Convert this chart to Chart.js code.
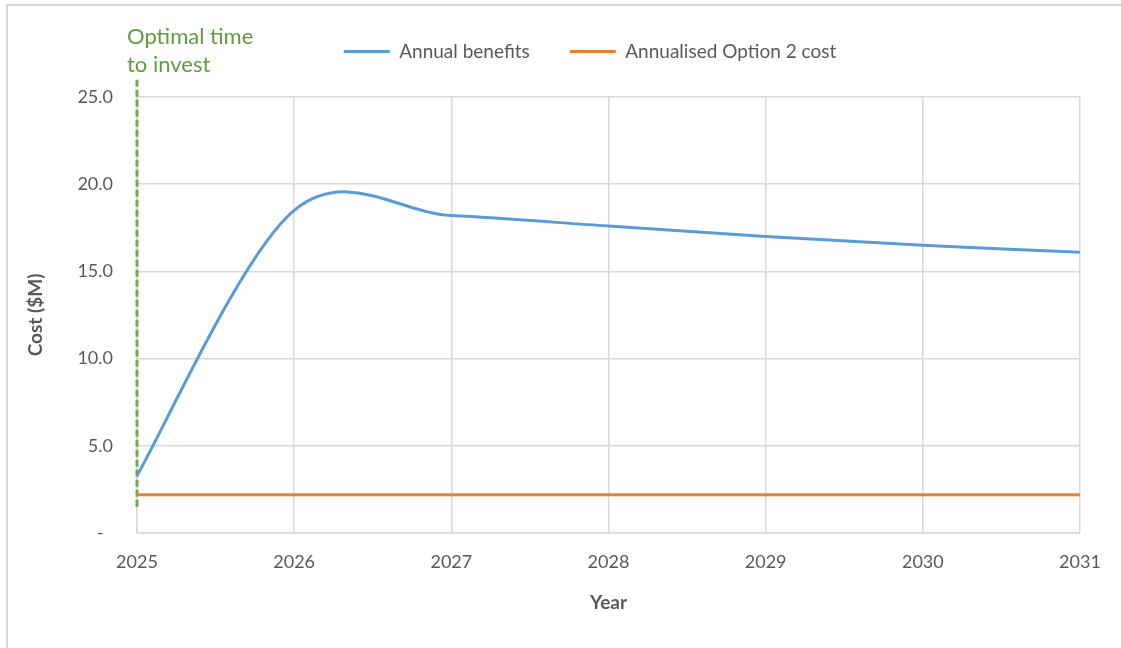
<!DOCTYPE html>
<html>
<head>
<meta charset="utf-8">
<script src="https://cdn.jsdelivr.net/npm/chart.js@4.4.1/dist/chart.umd.min.js"></script>
<style>
  html, body { margin: 0; padding: 0; background: #fff; }
  #wrap { position: relative; width: 1121px; height: 648px; }
</style>
</head>
<body>
<div id="wrap"><canvas id="costChart" width="1121" height="648"></canvas></div>
<script>
const years = [2025, 2026, 2027, 2028, 2029, 2030, 2031];
const annualBenefits = [3.3, 18.5, 18.2, 17.6, 17.0, 16.5, 16.1];
const optionCost = [2.2, 2.2, 2.2, 2.2, 2.2, 2.2, 2.2];
const investYear = 2025;
const investLineY = [1.5, 26];
const investLabel = ["Optimal time", "to invest"];
const seriesNames = ["Annual benefits", "Annualised Option 2 cost"];

const textColor = "#595959";
const gridColor = "#d9d9d9";

// Excel-like smoothing: control points at 1/6 of the neighbour span
const excelSmooth = {
  id: "excelSmooth",
  beforeDatasetsDraw(chart) {
    const meta = chart.getDatasetMeta(0);
    meta.dataset.updateControlPoints(chart.chartArea);
    const pts = meta.data;
    pts.forEach((p, i) => {
      const prev = pts[Math.max(i - 1, 0)];
      const next = pts[Math.min(i + 1, pts.length - 1)];
      const dx = (next.x - prev.x) / 6;
      const dy = (next.y - prev.y) / 6;
      p.cp1x = p.x - dx;
      p.cp1y = p.y - dy;
      p.cp2x = p.x + dx;
      p.cp2y = p.y + dy;
    });
  },
};

// frame round the chart + the green label
const extras = {
  id: "extras",
  beforeInit(chart) {
    const fit = chart.legend.fit;
    chart.legend.fit = function () {
      fit.bind(chart.legend)();
      this.height = 95;
    };
  },
  afterLayout(chart) {
    chart.legend.left += 40;
    chart.legend.right += 40;
  },
  beforeDraw(chart) {
    const c = chart.ctx;
    c.save();
    c.strokeStyle = gridColor;
    c.lineWidth = 2;
    c.strokeRect(7, 5, 1200, 800);
    c.restore();
  },
  afterDraw(chart) {
    const c = chart.ctx;
    const x = chart.scales.x.getPixelForValue(investYear) - 10;
    c.save();
    c.fillStyle = "#5f9c3f";
    c.font = "22px Lato";
    c.textBaseline = "middle";
    c.textAlign = "left";
    c.fillText(investLabel[0], x, 37);
    c.fillText(investLabel[1], x, 65);
    c.restore();
  },
};

new Chart(document.getElementById("costChart"), {
  type: "line",
  data: {
    datasets: [
      {
        label: seriesNames[0],
        data: years.map((y, i) => ({ x: y, y: annualBenefits[i] })),
        borderColor: "#5b9bd5",
        backgroundColor: "#5b9bd5",
        borderWidth: 3,
        pointRadius: 0,
        tension: 0.4,
      },
      {
        label: seriesNames[1],
        data: years.map((y, i) => ({ x: y, y: optionCost[i] })),
        borderColor: "#ed7d31",
        backgroundColor: "#ed7d31",
        borderWidth: 3,
        pointRadius: 0,
        tension: 0,
      },
      {
        label: "invest",
        data: investLineY.map((v) => ({ x: investYear, y: v })),
        borderColor: "#70ad47",
        borderWidth: 3,
        borderDash: [7, 3],
        pointRadius: 0,
        tension: 0,
        clip: false,
      },
    ],
  },
  options: {
    responsive: false,
    animation: false,
    layout: { padding: { left: 20, right: 41, top: 2, bottom: 20 } },
    plugins: {
      legend: {
        position: "top",
        labels: {
          color: textColor,
          font: { family: "Lato", size: 19 },
          boxWidth: 46,
          boxHeight: 3,
          padding: 40,
          generateLabels(chart) {
            return chart.data.datasets.slice(0, 2).map((ds, i) => ({
              text: ds.label,
              fillStyle: ds.borderColor,
              strokeStyle: ds.borderColor,
              lineWidth: 0,
              fontColor: textColor,
              datasetIndex: i,
            }));
          },
        },
      },
      tooltip: { enabled: false },
    },
    scales: {
      x: {
        type: "linear",
        min: 2025,
        max: 2031,
        afterFit: (s) => { s.height = 95; },
        ticks: {
          stepSize: 1,
          color: textColor,
          font: { family: "Lato", size: 18 },
          padding: 18,
          callback: (v) => String(v),
        },
        grid: { color: gridColor, lineWidth: 1.5, drawTicks: false },
        border: { color: gridColor, width: 1.5 },
        title: {
          display: true,
          text: "Year",
          color: textColor,
          font: { family: "Lato", size: 19, weight: "bold" },
          padding: { top: 0, bottom: 14 },
        },
      },
      y: {
        min: 0,
        max: 25,
        afterFit: (s) => { s.width = 117; },
        ticks: {
          stepSize: 5,
          color: textColor,
          font: { family: "Lato", size: 18 },
          padding: 24,
          callback: (v) => (v === 0 ? "-  " : v.toFixed(1)),
        },
        grid: { color: gridColor, lineWidth: 1.5, drawTicks: false },
        border: { color: gridColor, width: 1.5 },
        title: {
          display: true,
          text: "Cost ($M)",
          color: textColor,
          font: { family: "Lato", size: 19, weight: "bold" },
          padding: { top: 4, bottom: 0 },
        },
      },
    },
  },
  plugins: [excelSmooth, extras],
});
</script>
</body>
</html>
